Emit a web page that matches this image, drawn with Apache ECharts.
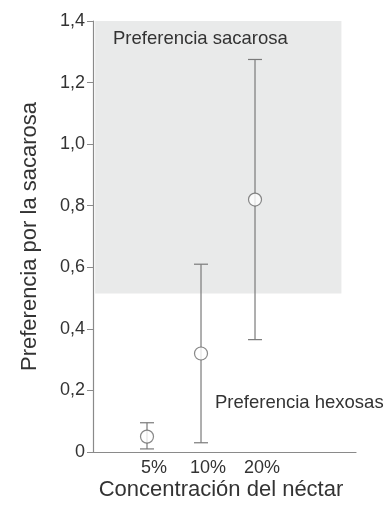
<!DOCTYPE html>
<html>
<head>
<meta charset="utf-8">
<script src="https://cdn.jsdelivr.net/npm/echarts@6/dist/echarts.min.js"></script>
<style>
html,body{margin:0;padding:0;background:#fff;}
#c{width:389px;height:505px;}
</style>
</head>
<body>
<div id="c"></div>
<script>
var categories = ['5%', '10%', '20%'];
var xPositions = [1, 2, 3];
var means = [0.05, 0.32, 0.82];
var lows = [0.01, 0.03, 0.365];
var highs = [0.095, 0.61, 1.275];
var yTicks = [0, 0.2, 0.4, 0.6, 0.8, 1.0, 1.2, 1.4];
var sucroseZoneY = [0.515, 1.4];
var sucroseZoneX = [0.04, 4.6];

var chart = echarts.init(document.getElementById('c'));
var font = 'Liberation Sans, Arial, sans-serif';
var axisGray = '#8a8a8a';
var textGray = '#333333';

var errData = xPositions.map(function (x, i) { return [x, lows[i], highs[i]]; });
var meanData = xPositions.map(function (x, i) { return [x, means[i]]; });

chart.setOption({
  animation: false,
  backgroundColor: '#fff',
  grid: { left: 93, right: 33, top: 21, bottom: 53 },
  xAxis: {
    type: 'value',
    min: 0,
    max: 4.87,
    interval: 1,
    splitLine: { show: false },
    axisLine: { show: true, onZero: false, lineStyle: { color: axisGray, width: 1.2 } },
    axisTick: { show: false },
    axisLabel: {
      showMinLabel: false, showMaxLabel: false,
      color: textGray, fontFamily: font, fontSize: 18, margin: 7,
      padding: [0, 0, 0, 14],
      formatter: function (v) {
        var r = Math.round(v);
        var idx = xPositions.indexOf(r);
        return (Math.abs(v - r) < 1e-6 && idx >= 0) ? categories[idx] : '';
      }
    }
  },
  yAxis: {
    type: 'value',
    min: 0, max: 1.4, interval: 0.2,
    name: 'Preferencia por la sacarosa',
    nameLocation: 'middle',
    nameGap: 52,
    nameTextStyle: { color: textGray, fontFamily: font, fontSize: 22 },
    splitLine: { show: false },
    axisLine: { show: true, lineStyle: { color: axisGray, width: 1.2 } },
    axisTick: { show: true, length: 6, lineStyle: { color: axisGray } },
    axisLabel: {
      color: textGray, fontFamily: font, fontSize: 18, margin: 8,
      formatter: function (v) {
        if (Math.abs(v) < 1e-9) return '0';
        return v.toFixed(1).replace('.', ',');
      }
    }
  },
  graphic: [
    { type: 'text', left: 113, top: 29, z: 10,
      style: { text: 'Preferencia sacarosa', fill: textGray, font: '18.5px ' + font } },
    { type: 'text', left: 215, top: 393, z: 10,
      style: { text: 'Preferencia hexosas', fill: textGray, font: '18.5px ' + font } },
    { type: 'text', x: 221, y: 490, z: 10,
      style: { text: 'Concentración del néctar', fill: textGray, font: '22px ' + font,
               textAlign: 'center', textVerticalAlign: 'middle' } }
  ],
  series: [
    {
      type: 'custom',
      data: errData,
      z: 3,
      renderItem: function (params, api) {
        var x = api.value(0);
        var lo = api.coord([x, api.value(1)]);
        var hi = api.coord([x, api.value(2)]);
        var hw = 7;
        var st = { stroke: '#7a7a7a', lineWidth: 1.2 };
        return {
          type: 'group',
          children: [
            { type: 'line', shape: { x1: lo[0], y1: lo[1], x2: hi[0], y2: hi[1] }, style: st },
            { type: 'line', shape: { x1: lo[0] - hw, y1: lo[1], x2: lo[0] + hw, y2: lo[1] }, style: st },
            { type: 'line', shape: { x1: hi[0] - hw, y1: hi[1], x2: hi[0] + hw, y2: hi[1] }, style: st }
          ]
        };
      },
      markArea: {
        silent: true,
        itemStyle: { color: '#e9eaea' },
        data: [[{ coord: [sucroseZoneX[0], sucroseZoneY[0]] }, { coord: [sucroseZoneX[1], sucroseZoneY[1]] }]]
      }
    },
    {
      type: 'scatter',
      data: meanData,
      z: 5,
      symbol: 'circle',
      symbolSize: 13,
      itemStyle: { color: '#ffffff', borderColor: '#6a6a6a', borderWidth: 1.2 }
    }
  ]
});
</script>
</body>
</html>
